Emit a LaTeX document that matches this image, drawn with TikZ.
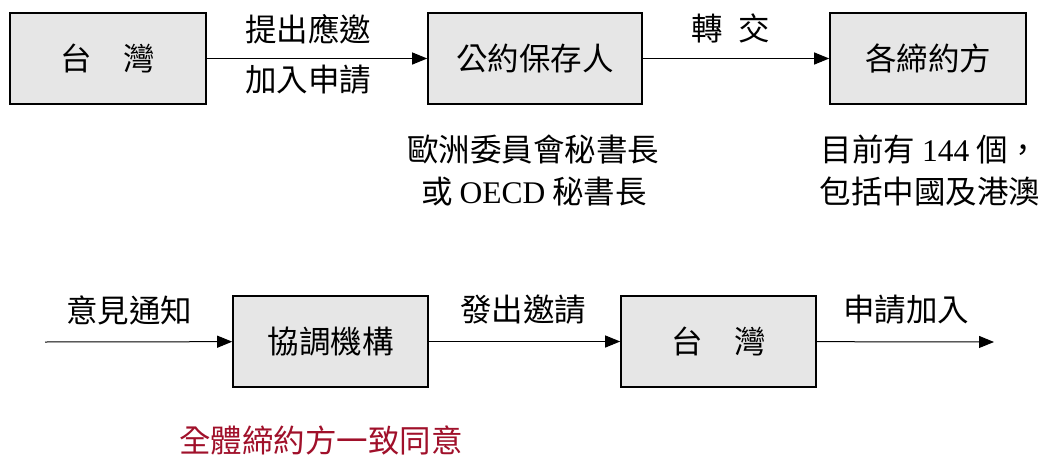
\documentclass[tikz,border=0pt]{standalone}
\usepackage{fontspec}
\setmainfont{Liberation Serif}
\newfontfamily\cjk{Noto Sans CJK TC}
\usetikzlibrary{arrows.meta}
\definecolor{boxfill}{HTML}{E6E6E6}
\definecolor{darkred}{HTML}{A0102A}
\begin{document}
\begin{tikzpicture}[x=1pt,y=-1pt,
  every node/.style={font=\fontsize{31.5}{36}\selectfont\cjk},
  flowbox/.style={draw=black,line width=1.6pt,fill=boxfill,minimum height=91pt,inner sep=0pt},
  flowarrow/.style={line width=1pt,-{Triangle[length=15pt,width=12pt]}},
  lbl/.style={inner sep=0pt,anchor=center}]
\useasboundingbox (0,0) rectangle (1047,455);
% top row
\node[flowbox,minimum width=196pt] (tw1) at (108,58.5) {台\hspace{1em}灣};
\node[flowbox,minimum width=214pt] (dep) at (535,58.5) {公約保存人};
\node[flowbox,minimum width=196pt] (par) at (928,58.5) {各締約方};
\draw[flowarrow] (tw1) -- (dep);
\draw[flowarrow] (dep) -- (par);
\node[lbl] (l1) at (308,29) {提出應邀};
\node[lbl] (l2) at (308,80) {加入申請};
\node[lbl] (l3) at (731,28) {轉\hspace{0.5em}交};
\node[lbl] (l4) at (533,150) {歐洲委員會秘書長};
\node[lbl] (l5) at (534,192) {或 {\rmfamily OECD} 秘書長};
\node[lbl] (l6) at (930,150) {目前有 {\rmfamily 144} 個，};
\node[lbl] (l7) at (930,192) {包括中國及港澳};
% bottom row
\coordinate (start) at (45,342);
\coordinate (end) at (994,342);
\node[flowbox,minimum width=195pt] (coord) at (330.5,341.5) {協調機構};
\node[flowbox,minimum width=195pt] (tw2) at (718.5,341.5) {台\hspace{1em}灣};
\draw[flowarrow] (start) -- (coord);
\draw[flowarrow] (coord) -- (tw2);
\draw[flowarrow] (tw2) -- (end);
\node[lbl] (l8) at (129,310) {意見通知};
\node[lbl] (l9) at (523,310) {發出邀請};
\node[lbl] (l10) at (906,310) {申請加入};
\node[lbl,text=darkred] (l11) at (321,440) {全體締約方一致同意};
\end{tikzpicture}
\end{document}
